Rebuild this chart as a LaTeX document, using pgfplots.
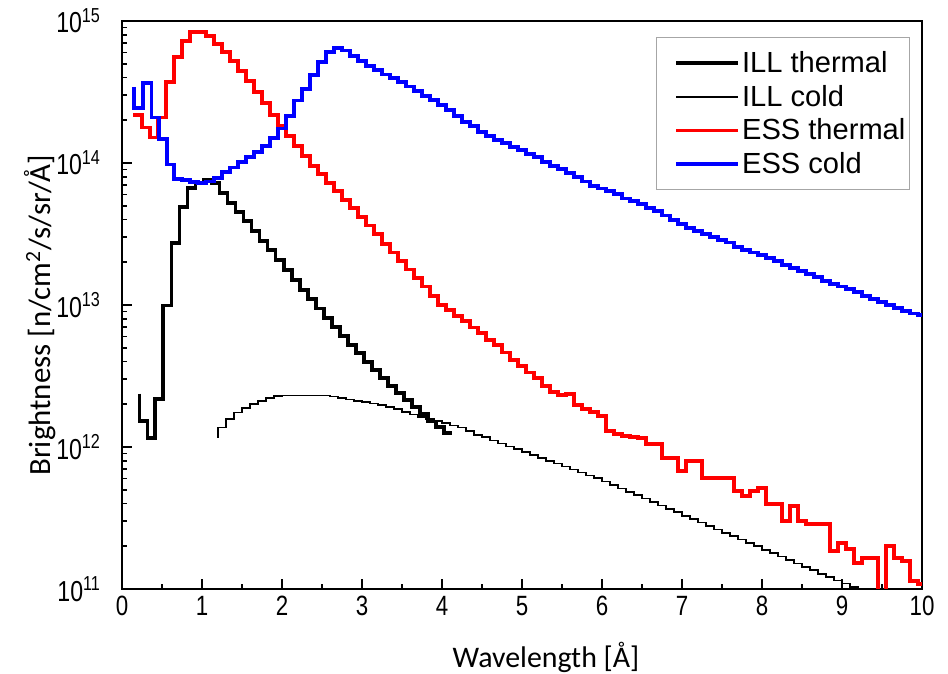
\documentclass[border=0pt]{standalone}
\usepackage{fontspec}
\setmainfont{Liberation Sans}
\newfontfamily\narrowfont[FakeStretch=0.8]{Liberation Sans}
\newfontfamily\calibri{Carlito}
\usepackage{pgfplots}
\pgfplotsset{compat=1.18}
\begin{document}
\begin{tikzpicture}
\path[use as bounding box] (-61bp,-42.5bp) rectangle (413bp,294.5bp);
\begin{axis}[
  at={(0,0)}, anchor=south west, scale only axis,
  width=400bp, height=284bp,
  xmin=0, xmax=10, ymin=1e11, ymax=1e15, ymode=log,
  axis line style={line width=1bp},
  xtick={0,1,2,3,4,5,6,7,8,9,10},
  minor xtick={0.5,1.5,2.5,3.5,4.5,5.5,6.5,7.5,8.5,9.5},
  ytick={1e11,1e12,1e13,1e14,1e15},
  yticklabels={10\textsuperscript{11},10\textsuperscript{12},10\textsuperscript{13},10\textsuperscript{14},10\textsuperscript{15}},
  minor ytick={2e11,3e11,4e11,5e11,6e11,7e11,8e11,9e11,2e12,3e12,4e12,5e12,6e12,7e12,8e12,9e12,2e13,3e13,4e13,5e13,6e13,7e13,8e13,9e13,2e14,3e14,4e14,5e14,6e14,7e14,8e14,9e14},
  xtick pos=lower, ytick pos=left,
  tick align=inside,
  major tick length=5bp, minor tick length=2.5bp,
  every tick/.style={black, line width=0.8bp},
  /pgf/number format/assume math mode=true,
  xticklabel style={font=\narrowfont\fontsize{14}{16}\selectfont},
  yticklabel style={font=\narrowfont\fontsize{14.5}{16}\selectfont, xshift=-7bp},
  xlabel={Wavelength [Å]},
  ylabel={Brightness [n/cm\textsuperscript{2}/s/sr/Å]},
  xlabel style={font=\calibri\fontsize{15}{18}\selectfont, at={(axis description cs:0.53,-0.12)}, anchor=center},
  ylabel style={font=\calibri\fontsize{15.5}{18}\selectfont, at={(axis description cs:-0.1025,0.482)}, anchor=center},
  legend style={at={(0.985,0.972)}, anchor=north east, draw=gray!70, line width=0.6bp,
    font=\fontsize{14.6}{17}\selectfont, inner xsep=1bp, inner ysep=4.5bp,
    nodes={inner sep=1bp, text height=12bp, text depth=2.8bp}},
  legend cell align=left,
  legend image code/.code={\path (-8bp,0bp); \draw[#1] (0bp,0bp) -- (31bp,0bp);},
  const plot mark right,
]
% ILL thermal
\addplot[black, line width=1.9bp] coordinates {
(0.22,2.38e12) (0.32,1.53e12) (0.41,1.16e12) (0.51,2.19e12) (0.62,9.9e12) (0.72,2.72e13) (0.82,4.88e13) (0.92,6.64e13) (1.02,7.2e13) (1.12,7.55e13) (1.22,7.24e13) (1.32,6.17e13) (1.42,5.25e13) (1.52,4.52e13) (1.62,3.89e13) (1.72,3.31e13) (1.82,2.82e13) (1.92,2.43e13) (2.02,2.07e13) (2.12,1.76e13) (2.22,1.50e13) (2.32,1.27e13) (2.42,1.10e13) (2.52,9.44e12) (2.62,8.13e12) (2.72,7.0e12) (2.82,6.03e12) (2.92,5.25e12) (3.02,4.57e12) (3.12,3.98e12) (3.22,3.47e12) (3.32,3.05e12) (3.42,2.69e12) (3.52,2.40e12) (3.62,2.14e12) (3.72,1.91e12) (3.82,1.70e12) (3.92,1.51e12) (4.02,1.38e12) (4.12,1.26e12)
};
\addlegendentry{ILL thermal}
% ILL cold
\addplot[black, line width=0.8bp] coordinates {
(1.20,1.16e12) (1.30,1.37e12) (1.40,1.58e12) (1.50,1.75e12) (1.60,1.89e12) (1.70,2.00e12) (1.80,2.11e12) (1.90,2.21e12) (2.00,2.29e12) (2.10,2.30e12) (2.20,2.30e12) (2.30,2.30e12) (2.40,2.30e12) (2.50,2.30e12) (2.60,2.30e12) (2.70,2.26e12) (2.80,2.21e12) (2.90,2.16e12) (3.00,2.11e12) (3.10,2.07e12) (3.20,2.03e12) (3.30,1.98e12) (3.40,1.91e12) (3.50,1.85e12) (3.60,1.77e12) (3.70,1.69e12) (3.80,1.62e12) (3.90,1.57e12) (4.00,1.52e12) (4.10,1.47e12) (4.20,1.42e12) (4.30,1.37e12) (4.40,1.29e12) (4.50,1.22e12) (4.60,1.17e12) (4.70,1.11e12) (4.80,1.06e12) (4.90,1.01e12) (5.00,9.66e11) (5.10,9.22e11) (5.20,8.79e11) (5.30,8.39e11) (5.40,8.00e11) (5.50,7.64e11) (5.60,7.28e11) (5.70,6.95e11) (5.80,6.62e11) (5.90,6.31e11) (6.00,6.03e11) (6.10,5.70e11) (6.20,5.40e11) (6.30,5.11e11) (6.40,4.83e11) (6.50,4.57e11) (6.60,4.33e11) (6.70,4.09e11) (6.80,3.87e11) (6.90,3.66e11) (7.00,3.47e11) (7.10,3.28e11) (7.20,3.10e11) (7.30,2.94e11) (7.40,2.78e11) (7.50,2.63e11) (7.60,2.49e11) (7.70,2.36e11) (7.80,2.23e11) (7.90,2.11e11) (8.00,2.00e11) (8.10,1.89e11) (8.20,1.79e11) (8.30,1.69e11) (8.40,1.60e11) (8.50,1.51e11) (8.60,1.43e11) (8.70,1.36e11) (8.80,1.28e11) (8.90,1.21e11) (9.00,1.15e11) (9.10,1.09e11) (9.20,1.03e11) (9.30,9.7e10)
};
\addlegendentry{ILL cold}
% ESS thermal
\addplot[red, line width=1.9bp] coordinates {
(0.14,2.19e14) (0.25,2.19e14) (0.35,1.78e14) (0.45,1.51e14) (0.55,2.09e14) (0.65,3.72e14) (0.75,5.56e14) (0.85,7.24e14) (0.95,8.32e14) (1.05,8.32e14) (1.15,7.85e14) (1.25,6.84e14) (1.35,6.03e14) (1.45,5.25e14) (1.55,4.47e14) (1.65,3.80e14) (1.75,3.16e14) (1.85,2.63e14) (1.95,2.19e14) (2.05,1.82e14) (2.15,1.55e14) (2.25,1.32e14) (2.35,1.12e14) (2.45,9.55e13) (2.55,8.32e13) (2.65,7.24e13) (2.75,6.31e13) (2.85,5.50e13) (2.95,4.79e13) (3.05,4.17e13) (3.15,3.63e13) (3.25,3.16e13) (3.35,2.69e13) (3.45,2.34e13) (3.55,2.04e13) (3.65,1.78e13) (3.75,1.55e13) (3.85,1.35e13) (3.95,1.15e13) (4.05,1.00e13) (4.15,9.23e12) (4.25,8.40e12) (4.35,7.70e12) (4.45,6.95e12) (4.55,6.35e12) (4.65,5.70e12) (4.75,5.20e12) (4.85,4.62e12) (4.95,4.10e12) (5.05,3.70e12) (5.15,3.35e12) (5.25,3.05e12) (5.35,2.70e12) (5.45,2.45e12) (5.55,2.32e12) (5.65,2.37e12) (5.75,1.97e12) (5.85,1.84e12) (5.95,1.76e12) (6.05,1.66e12) (6.15,1.30e12) (6.25,1.24e12) (6.35,1.20e12) (6.45,1.17e12) (6.55,1.16e12) (6.65,1.05e12) (6.75,1.05e12) (6.85,8.39e11) (6.95,8.39e11) (7.05,6.81e11) (7.15,8.0e11) (7.25,8.0e11) (7.35,6.07e11) (7.45,6.07e11) (7.55,6.07e11) (7.65,6.07e11) (7.75,4.91e11) (7.85,4.53e11) (7.95,4.91e11) (8.05,5.16e11) (8.15,3.98e11) (8.25,3.98e11) (8.35,3.02e11) (8.45,3.85e11) (8.55,3.02e11) (8.65,2.88e11) (8.75,2.88e11) (8.85,2.88e11) (8.95,1.85e11) (9.05,2.11e11) (9.15,1.91e11) (9.25,1.52e11) (9.35,1.66e11) (9.45,1.66e11) (9.55,9.5e10) (9.65,2.01e11) (9.75,1.66e11) (9.85,1.57e11) (9.95,1.14e11) (10.0,1.08e11)
};
\addlegendentry{ESS thermal}
% ESS cold
\addplot[blue, line width=1.9bp] coordinates {
(0.15,3.43e14) (0.26,2.43e14) (0.37,3.66e14) (0.46,2.09e14) (0.56,1.48e14) (0.65,9.77e13) (0.75,7.76e13) (0.85,7.6e13) (0.95,7.3e13) (1.05,7.2e13) (1.15,7.41e13) (1.25,7.8e13) (1.35,8.6e13) (1.45,9.3e13) (1.55,1.01e14) (1.65,1.10e14) (1.75,1.19e14) (1.85,1.32e14) (1.95,1.50e14) (2.05,1.75e14) (2.15,2.15e14) (2.25,2.75e14) (2.35,3.30e14) (2.45,4.16e14) (2.55,5.14e14) (2.65,6.03e14) (2.75,6.46e14) (2.85,6.20e14) (2.95,5.70e14) (3.05,5.20e14) (3.15,4.80e14) (3.25,4.50e14) (3.35,4.20e14) (3.45,3.95e14) (3.55,3.70e14) (3.65,3.45e14) (3.75,3.22e14) (3.85,2.98e14) (3.95,2.78e14) (4.05,2.57e14) (4.15,2.36e14) (4.25,2.14e14) (4.35,1.95e14) (4.45,1.82e14) (4.55,1.66e14) (4.65,1.55e14) (4.75,1.45e14) (4.85,1.38e14) (4.95,1.29e14) (5.05,1.23e14) (5.15,1.15e14) (5.25,1.10e14) (5.35,1.02e14) (5.45,9.55e13) (5.55,9.12e13) (5.65,8.51e13) (5.75,7.94e13) (5.85,7.41e13) (5.95,6.92e13) (6.05,6.61e13) (6.15,6.31e13) (6.25,6.03e13) (6.35,5.62e13) (6.45,5.37e13) (6.55,5.13e13) (6.65,4.79e13) (6.75,4.57e13) (6.85,4.27e13) (6.95,3.98e13) (7.05,3.72e13) (7.15,3.47e13) (7.25,3.31e13) (7.35,3.16e13) (7.45,3.02e13) (7.55,2.88e13) (7.65,2.75e13) (7.75,2.57e13) (7.85,2.45e13) (7.95,2.34e13) (8.05,2.24e13) (8.15,2.14e13) (8.25,2.04e13) (8.35,1.91e13) (8.45,1.82e13) (8.55,1.74e13) (8.65,1.66e13) (8.75,1.58e13) (8.85,1.48e13) (8.95,1.41e13) (9.05,1.35e13) (9.15,1.29e13) (9.25,1.23e13) (9.35,1.15e13) (9.45,1.10e13) (9.55,1.05e13) (9.65,1.00e13) (9.75,9.55e12) (9.85,9.12e12) (9.95,8.71e12) (10.0,8.5e12)
};
\addlegendentry{ESS cold}
\end{axis}
\end{tikzpicture}
\end{document}
